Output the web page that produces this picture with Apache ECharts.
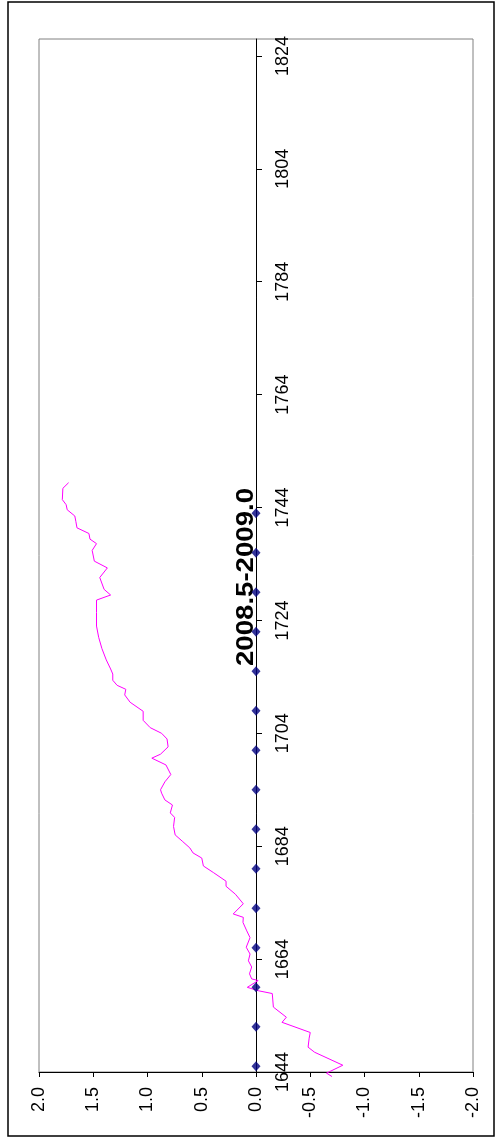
<!DOCTYPE html>
<html>
<head>
<meta charset="utf-8">
<script src="https://cdn.jsdelivr.net/npm/echarts@6/dist/echarts.min.js"></script>
<style>
html,body{margin:0;padding:0;background:#fff;}
#c{width:498px;height:1139px;}
</style>
</head>
<body>
<div id="c"></div>
<script>
const titleText = '2008.5-2009.0';
const yearTicks = [1644, 1664, 1684, 1704, 1724, 1744, 1764, 1784, 1804, 1824];
const valueTicks = [-2.0, -1.5, -1.0, -0.5, 0.0, 0.5, 1.0, 1.5, 2.0];
const lineYears = [1643.2, 1643.8, 1645.2, 1647.5, 1648.4, 1650.0, 1651.0, 1652.8, 1653.7, 1655.5,
  1657.9, 1658.4, 1659.0, 1660.2, 1660.5, 1661.4, 1662.6, 1663.7, 1664.9, 1666.1,
  1667.8, 1669.0, 1670.5, 1671.4, 1672.0, 1673.8, 1675.5, 1676.9, 1677.8, 1679.3,
  1680.5, 1681.9, 1682.8, 1683.7, 1684.9, 1686.0, 1687.5, 1689.1, 1689.9, 1691.3,
  1692.2, 1693.4, 1694.0, 1695.4, 1696.7, 1698.4, 1699.6, 1700.3, 1701.6, 1703.0,
  1704.0, 1705.0, 1706.3, 1707.9, 1709.5, 1710.8, 1711.8, 1712.5, 1713.4, 1714.5,
  1715.4, 1717.0, 1719.0, 1721.0, 1723.0, 1725.4, 1727.6, 1728.5, 1729.5, 1731.6,
  1733.3, 1734.5, 1736.4, 1737.6, 1738.4, 1739.4, 1740.4, 1741.5, 1742.5, 1743.6,
  1744.5, 1745.4, 1747.4, 1748.4];
const lineValues = [-0.70, -0.65, -0.80, -0.54, -0.48, -0.49, -0.50, -0.24, -0.28, -0.16,
  -0.15, -0.02, 0.08, -0.02, 0.04, 0.06, 0.04, 0.07, 0.055, 0.09,
  0.055, 0.085, 0.12, 0.117, 0.21, 0.117, 0.19, 0.276, 0.276, 0.39,
  0.485, 0.50, 0.58, 0.61, 0.68, 0.745, 0.76, 0.75, 0.79, 0.77,
  0.84, 0.87, 0.88, 0.84, 0.785, 0.83, 0.96, 0.88, 0.81, 0.82,
  0.87, 0.975, 1.04, 1.04, 1.16, 1.21, 1.20, 1.28, 1.32, 1.32,
  1.34, 1.38, 1.42, 1.45, 1.47, 1.47, 1.47, 1.34, 1.40, 1.44,
  1.37, 1.49, 1.51, 1.47, 1.53, 1.54, 1.65, 1.66, 1.67, 1.74,
  1.75, 1.785, 1.78, 1.727];
const markerYears = [1645, 1652, 1659, 1666, 1673, 1680, 1687, 1694, 1701, 1708, 1715, 1722, 1729, 1736, 1743];
const markerValues = [0, 0, 0, 0, 0, 0, 0, 0, 0, 0, 0, 0, 0, 0, 0];

const FONT = 'Liberation Sans';
const chart = echarts.init(document.getElementById('c'), null, {renderer: 'canvas'});
chart.setOption({
  animation: false,
  backgroundColor: '#ffffff',
  textStyle: {fontFamily: FONT, fontSize: 18},
  grid: {left: 39, top: 39, right: 25, bottom: 67, show: true, borderColor: '#808080', borderWidth: 1,
    backgroundColor: 'transparent', containLabel: false, outerBoundsMode: 'none'},
  xAxis: {
    type: 'value', min: -2, max: 2, interval: 0.5, inverse: true, position: 'bottom',
    axisLine: {show: true, onZero: false, lineStyle: {color: '#000', width: 1}},
    axisTick: {show: true, inside: false, length: 5, lineStyle: {color: '#000'}},
    splitLine: {show: false},
    axisLabel: {
      show: true, rotate: 90, margin: 15, color: '#000', fontFamily: FONT, fontSize: 18,
      customValues: valueTicks,
      formatter: function (v) { return Number(v).toFixed(1); }
    }
  },
  yAxis: {
    type: 'value', min: 1644, max: 1827, position: 'right', offset: -217,
    axisLine: {show: true, onZero: false, lineStyle: {color: '#000', width: 1}},
    axisTick: {show: true, inside: false, length: 6, customValues: yearTicks, lineStyle: {color: '#000'}},
    splitLine: {show: false},
    axisLabel: {show: true, rotate: 90, margin: 18, color: '#000', fontFamily: FONT, fontSize: 18,
      customValues: yearTicks, formatter: function (v) { return String(v); }}
  },
  graphic: [
    {type: 'rect', shape: {x: 8, y: 2, width: 486, height: 1134}, style: {fill: 'none', stroke: '#000', lineWidth: 1.5}, silent: true, z: 100},
    {type: 'text', x: 246, y: 577, rotation: Math.PI / 2, scaleX: 1.15,
      style: {text: titleText, fontFamily: FONT, fontWeight: 'bold', fontSize: 24, fill: '#000', align: 'center', verticalAlign: 'middle'}}
  ],
  series: [
    {type: 'line', data: lineYears.map((y, i) => [lineValues[i], y]), showSymbol: false, symbol: 'none', clip: false,
      lineStyle: {color: '#FF00FF', width: 1}, z: 3},
    {type: 'scatter', data: markerYears.map((y, i) => [markerValues[i], y]), symbol: 'diamond', symbolSize: [9, 10],
      itemStyle: {color: '#000080'}, z: 4}
  ]
});
</script>
</body>
</html>
